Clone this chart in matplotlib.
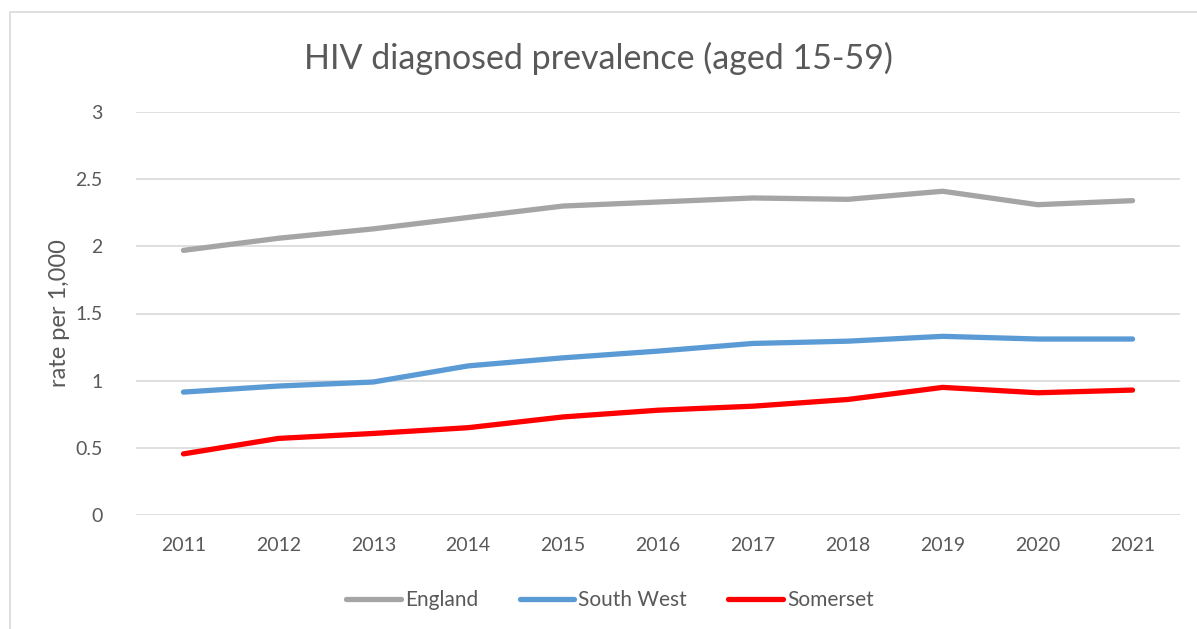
import numpy as np
import matplotlib.pyplot as plt
from matplotlib.patches import Rectangle

years = ["2011", "2012", "2013", "2014", "2015", "2016", "2017", "2018", "2019", "2020", "2021"]
england = [1.97, 2.06, 2.13, 2.215, 2.30, 2.33, 2.36, 2.35, 2.41, 2.31, 2.34]
south_west = [0.915, 0.96, 0.99, 1.11, 1.17, 1.22, 1.277, 1.294, 1.33, 1.31, 1.31]
somerset = [0.455, 0.57, 0.607, 0.65, 0.73, 0.78, 0.81, 0.86, 0.95, 0.91, 0.93]

plt.rcParams['font.family'] = ['Lato', 'DejaVu Sans']
txt = '#595959'

fig = plt.figure(figsize=(11.97, 6.29), dpi=100)
ax = fig.add_axes([136/1197, 114/629, (1180-136)/1197, (515-112)/629])

# chart border (only left/top visible in the crop)
fig.patches.append(Rectangle((10/1197, -0.1), 1.2, (629-12)/629 + 0.1,
                             transform=fig.transFigure, fill=False,
                             edgecolor='#d9d9d9', linewidth=1.2))

x = np.arange(len(years))
ax.plot(x, england, color='#a5a5a5', lw=3.8, solid_capstyle='round', label='England')
ax.plot(x, south_west, color='#5b9bd5', lw=3.8, solid_capstyle='round', label='South West')
ax.plot(x, somerset, color='#ff0000', lw=3.8, solid_capstyle='round', label='Somerset')

ax.set_xlim(-0.5, len(years) - 0.5)
ax.set_ylim(0, 3)
ax.set_yticks(np.arange(0, 3.01, 0.5))
ax.set_yticklabels(["0", "0.5", "1", "1.5", "2", "2.5", "3"])
ax.set_xticks(x)
ax.set_xticklabels(years)
ax.grid(axis='y', color='#d9d9d9', lw=1.2)
ax.set_axisbelow(True)
for s in ax.spines.values():
    s.set_visible(False)
ax.tick_params(length=0, labelsize=14, colors=txt, pad=8)
ax.tick_params(axis='y', pad=24)
ax.tick_params(axis='x', pad=16)

ax.set_ylabel("rate per 1,000", fontsize=17, color=txt, labelpad=4)
fig.text(0.5, 1 - 58/629, "HIV diagnosed prevalence (aged 15-59)", ha='center', va='center',
         fontsize=24.5, color=txt)

fig.legend(loc='center', bbox_to_anchor=(610/1197, 1 - 600/629), ncol=3, frameon=False,
           fontsize=15, labelcolor=txt, handlelength=2.6, handletextpad=0.2, columnspacing=2.0)

fig.savefig("out.png", dpi=100)
